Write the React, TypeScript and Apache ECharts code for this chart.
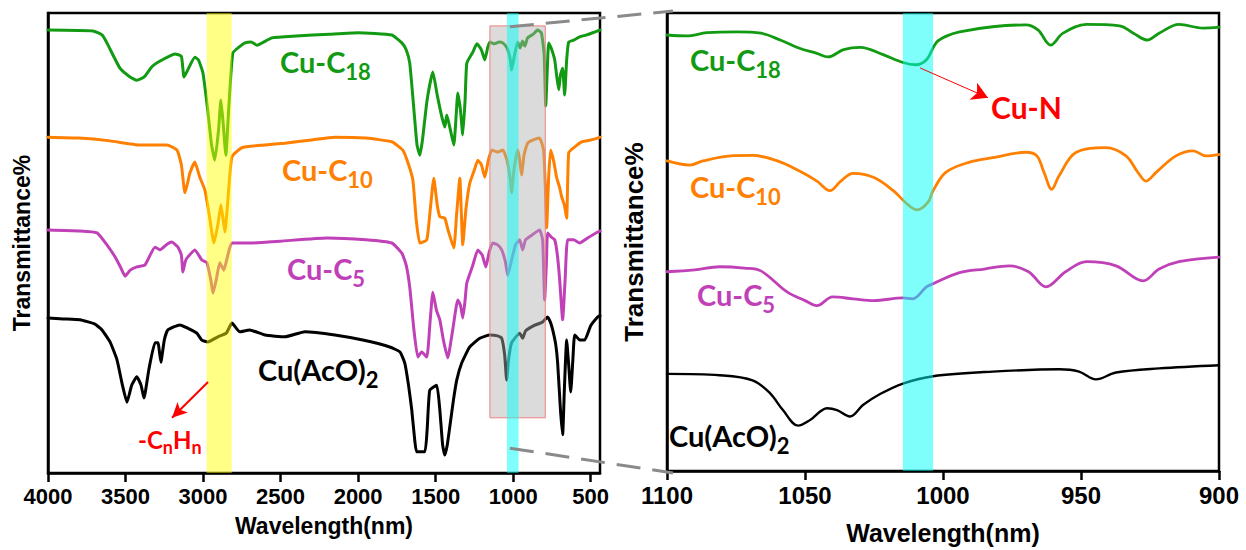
import React, { useEffect, useRef } from "react";
import * as echarts from "echarts";

// FTIR spectra, full range (wavenumber, transmittance in arbitrary offset units)
const cuC18Full: [number, number][] = [[4000,96.3],[3710,96.1],[3650,95.2],[3620,93.5],[3536,88.0],[3471,86.1],[3427,85.4],[3380,86.1],[3330,88.3],[3291,89.3],[3181,91.1],[3140,90.6],[3123,86.1],[3105,87.2],[3053,90.4],[3030,89.8],[3001,87.0],[2970,78.9],[2945,71.3],[2924,68.0],[2900,74.6],[2885,81.1],[2870,75.9],[2853,69.1],[2835,78.9],[2808,91.3],[2760,92.8],[2730,93.5],[2690,93.7],[2653,93.0],[2556,94.6],[2400,95.0],[2183,95.4],[2000,95.7],[1783,95.2],[1718,93.5],[1690,92.0],[1667,89.1],[1640,78.9],[1620,71.3],[1602,69.1],[1585,72.4],[1555,81.1],[1518,87.2],[1490,82.2],[1460,77.4],[1441,75.2],[1428,77.8],[1405,74.6],[1383,71.3],[1370,76.5],[1357,82.6],[1340,78.9],[1325,73.5],[1310,81.1],[1299,89.1],[1260,91.5],[1234,93.3],[1205,92.0],[1183,89.8],[1165,92.4],[1151,93.7],[1120,93.3],[1090,93.7],[1067,93.5],[1040,92.4],[1020,90.2],[1010,87.6],[995,90.2],[971,93.7],[955,92.4],[940,93.9],[925,92.8],[907,94.6],[870,95.4],[843,96.3],[818,95.7],[800,90.9],[790,79.8],[780,87.6],[771,93.5],[755,92.4],[732,89.8],[720,86.5],[706,83.3],[695,86.5],[681,88.0],[668,82.2],[655,89.8],[642,93.7],[610,94.1],[571,94.8],[530,95.2],[487,95.7],[455,96.1],[440,96.3]];

const cuC10Full: [number, number][] = [[4000,73.0],[3800,72.8],[3600,72.2],[3407,71.3],[3233,71.3],[3168,70.2],[3140,67.0],[3117,60.9],[3100,63.0],[3085,65.2],[3053,67.6],[3021,64.3],[2988,61.5],[2960,56.1],[2930,50.0],[2905,53.9],[2885,58.3],[2870,55.0],[2859,52.4],[2840,59.3],[2814,68.7],[2750,70.7],[2600,71.3],[2472,71.7],[2300,72.4],[2150,73.0],[1950,72.8],[1783,72.0],[1712,70.2],[1680,67.6],[1647,63.7],[1625,55.0],[1602,50.0],[1557,50.7],[1535,57.2],[1512,64.1],[1490,58.3],[1473,55.7],[1441,55.4],[1420,52.8],[1383,48.9],[1365,56.1],[1344,64.1],[1335,57.2],[1325,49.6],[1305,57.2],[1280,63.0],[1250,65.9],[1228,68.0],[1205,67.0],[1183,64.3],[1160,68.0],[1138,70.2],[1100,69.8],[1067,70.2],[1040,68.0],[1020,64.1],[1010,60.9],[995,65.9],[971,70.2],[960,68.5],[946,64.8],[930,69.1],[907,71.7],[870,72.4],[830,72.8],[804,70.2],[793,62.6],[784,53.3],[772,63.7],[759,70.2],[740,68.0],[720,64.3],[700,62.0],[687,60.0],[670,58.3],[655,55.4],[642,69.6],[610,70.7],[558,72.0],[500,72.4],[455,72.8],[440,73.0]];

const cuC5Full: [number, number][] = [[4000,52.8],[3800,52.6],[3684,52.2],[3620,49.6],[3568,47.0],[3530,44.6],[3503,42.8],[3470,44.1],[3427,44.8],[3375,45.2],[3310,49.1],[3278,48.5],[3230,49.8],[3201,50.2],[3162,49.1],[3140,47.4],[3130,43.7],[3115,45.9],[3104,46.7],[3053,48.5],[3008,46.3],[2975,45.7],[2950,42.0],[2936,39.1],[2915,42.0],[2892,45.7],[2866,44.1],[2840,47.4],[2814,50.0],[2685,50.0],[2500,50.4],[2200,51.1],[1950,50.7],[1783,50.0],[1718,47.8],[1690,45.2],[1667,40.4],[1640,31.1],[1615,25.2],[1590,26.3],[1557,25.2],[1535,33.3],[1518,39.3],[1495,35.4],[1473,33.3],[1450,28.9],[1422,25.0],[1390,31.1],[1357,37.6],[1340,36.5],[1325,33.7],[1310,37.6],[1299,41.3],[1260,45.2],[1228,48.5],[1200,47.4],[1176,44.8],[1155,48.0],[1132,50.0],[1100,49.6],[1074,48.5],[1050,45.9],[1035,43.0],[1010,46.3],[985,49.6],[958,50.7],[939,48.5],[920,50.7],[880,51.7],[830,52.8],[810,50.7],[797,37.6],[785,46.3],[778,52.2],[755,51.3],[732,50.7],[715,47.4],[700,42.0],[681,33.3],[665,42.0],[649,50.7],[610,50.7],[571,50.0],[520,51.1],[455,52.4],[440,52.6]];

const cuAcOFull: [number, number][] = [[4000,33.7],[3900,33.5],[3794,33.3],[3700,32.4],[3652,31.1],[3600,28.5],[3555,24.6],[3520,19.1],[3491,15.4],[3460,19.1],[3427,20.9],[3400,19.1],[3381,16.3],[3350,22.4],[3310,28.3],[3291,28.3],[3272,24.1],[3250,28.9],[3227,31.1],[3149,32.2],[3100,31.5],[3040,30.4],[3008,28.9],[2969,28.5],[2904,29.6],[2850,30.4],[2814,32.6],[2763,30.7],[2700,31.1],[2601,30.0],[2472,29.6],[2343,30.7],[2150,30.0],[1970,28.9],[1796,27.4],[1730,26.3],[1699,23.9],[1675,19.1],[1654,13.7],[1635,7.2],[1622,4.6],[1570,4.6],[1555,9.3],[1538,18.0],[1493,19.1],[1473,13.7],[1455,6.1],[1441,3.9],[1425,6.1],[1409,10.0],[1385,15.9],[1364,20.2],[1332,23.9],[1280,27.4],[1215,29.3],[1151,30.0],[1100,29.8],[1074,29.3],[1055,25.7],[1042,20.2],[1030,24.6],[1010,28.3],[958,30.4],[939,29.3],[920,30.9],[870,32.0],[811,32.8],[778,33.9],[760,32.8],[745,31.1],[725,27.8],[713,23.9],[695,13.7],[681,8.3],[670,18.0],[655,28.9],[642,23.5],[629,17.6],[615,24.6],[603,30.0],[570,28.9],[539,28.9],[500,32.0],[455,33.9],[440,34.2]];

// Expanded 1100–900 cm-1 window
const cuC18Zoom: [number, number][] = [[1100,95.2],[1093,95.0],[1085.5,95.7],[1074.6,95.9],[1066,95.6],[1059,94.1],[1052,92.3],[1045.7,91.2],[1041.7,90.4],[1036,92.0],[1030,92.5],[1021.7,90.9],[1014.5,89.2],[1010,88.7],[1006,89.8],[1002.5,93.5],[999,94.9],[994,95.9],[982,97.0],[970,97.4],[965.6,96.3],[961,93.0],[956.5,95.6],[948,97.5],[936,97.2],[931,95.6],[926,94.1],[921.7,95.6],[914.5,97.5],[905.8,96.7],[900,96.9]];

const cuC10Zoom: [number, number][] = [[1100,67.7],[1091.7,66.8],[1087,67.7],[1077,68.8],[1068.8,68.9],[1060,67.7],[1052,65.5],[1045.7,63.3],[1041,61.2],[1037,63.3],[1032.6,65.0],[1025,64.1],[1018,61.2],[1013,58.3],[1009.4,57.0],[1005.4,58.7],[1003.6,61.2],[999,65.2],[990.6,67.4],[982,68.4],[970,69.6],[966,68.8],[963.4,65.2],[960.6,61.5],[958,64.4],[952,69.5],[941,70.6],[933.7,68.8],[929.4,65.2],[926.4,63.3],[922.8,65.2],[915.6,68.8],[909.4,69.9],[904.7,68.8],[900,69.1]];

const cuC5Zoom: [number, number][] = [[1100,43.5],[1090,43.9],[1081,44.6],[1072,44.3],[1066,43.7],[1056.5,39.1],[1050,37.2],[1045.7,36.1],[1040,38.0],[1032.6,37.6],[1025,37.2],[1014.5,37.8],[1011,37.6],[1006,40.2],[1003.6,40.9],[994,43.3],[985,44.1],[976,44.8],[969,43.5],[962.7,40.2],[955.6,43.5],[948,45.7],[937.3,44.8],[927.5,41.5],[921.7,44.1],[914.5,45.7],[900,46.7]];

const cuAcOZoom: [number, number][] = [[1100,21.2],[1081,20.9],[1069,19.8],[1062.7,17.0],[1058,13.3],[1052.5,9.9],[1048,11.2],[1042,13.7],[1038.4,13.3],[1033.7,11.9],[1029,14.4],[1022.8,16.8],[1014.5,19.1],[1003.6,20.7],[982,21.7],[958,22.2],[950.7,21.7],[944.6,20.0],[937.3,21.5],[921.7,22.4],[900,23.1]];

const fullTicks = [4000, 3500, 3000, 2500, 2000, 1500, 1000, 500];

// Highlighted bands and the boxed region (wavenumber limits)
const chBand = [2977, 2815];
const cuNBandFull = [1040, 965];
const cuNBandZoom = [1014.5, 1003.6];
const zoomBox = { from: 1150, to: 793, top: 97.2, bottom: 12.0 };

// Annotation arrows: [tail, head] in data units
const chArrow: [number, number][] = [[2968, 19.8], [3200, 12.0]];
const cuNArrow: [number, number][] = [[1008.3, 88.0], [983.7, 81.5]];

const GREEN = "#129a12";
const ORANGE = "#ff8000";
const MAGENTA = "#c040b8";
const BLACK = "#000000";
const RED = "#ff0000";

const LABEL_FONT = "Lato, 'Open Sans', sans-serif";
const AXIS_FONT = "'Liberation Sans', Arial, sans-serif";

type Part = { t: string; sub?: boolean };

function richLabel(left: number, capsCenter: number, parts: Part[], color: string, size: number) {
  const subSize = Math.round(size * 0.76);
  const text = parts.map((p) => `{${p.sub ? "s" : "m"}|${p.t}}`).join("");
  return {
    type: "text",
    x: left,
    y: capsCenter - 0.54 * size,
    z: 50,
    silent: true,
    style: {
      text,
      fill: color,
      align: "left",
      verticalAlign: "top",
      rich: {
        m: { fontSize: size, fontWeight: "bold", fontFamily: LABEL_FONT, fill: color, lineHeight: size * 1.2, verticalAlign: "top" },
        s: { fontSize: subSize, fontWeight: "bold", fontFamily: LABEL_FONT, fill: color, lineHeight: size * 0.64, verticalAlign: "bottom" },
      },
    },
  };
}

const plainNumber = (v: number) => String(v);

function xAxisFor(gridIndex: number, min: number, max: number, fontSize: number, nameSize: number, extra: any) {
  return {
    type: "value",
    gridIndex,
    min,
    max,
    inverse: true,
    axisLine: { show: true, onZero: false, lineStyle: { color: "#000", width: 2.5 } },
    axisTick: { show: true, inside: false, length: 9, lineStyle: { color: "#000", width: 2.5 }, ...(extra.tick || {}) },
    axisLabel: { fontSize, fontWeight: "bold", color: "#000", fontFamily: AXIS_FONT, margin: 12, formatter: plainNumber, ...(extra.label || {}) },
    splitLine: { show: false },
    name: "Wavelength(nm)",
    nameLocation: "middle",
    nameGap: extra.nameGap,
    nameTextStyle: { fontSize: nameSize, fontWeight: "bold", color: "#000", fontFamily: AXIS_FONT },
    ...(extra.axis || {}),
  };
}

function yAxisFor(gridIndex: number, nameSize: number, nameGap: number) {
  return {
    type: "value",
    gridIndex,
    min: 0,
    max: 100,
    axisLine: { show: true, onZero: false, lineStyle: { color: "#000", width: 2.5 } },
    axisTick: { show: false },
    axisLabel: { show: false },
    splitLine: { show: false },
    name: "Transmittance%",
    nameLocation: "middle",
    nameGap,
    nameTextStyle: { fontSize: nameSize, fontWeight: "bold", color: "#000", fontFamily: AXIS_FONT },
  };
}

function spectrum(name: string, data: [number, number][], color: string, width: number, gridIndex: number, smooth: number) {
  return {
    name,
    type: "line",
    xAxisIndex: gridIndex,
    yAxisIndex: gridIndex,
    data,
    showSymbol: false,
    symbol: "none",
    smooth,
    z: 2,
    silent: true,
    lineStyle: { color, width, join: "round", cap: "round" },
  };
}

function overlay(gridIndex: number, markArea: any, markLine?: any) {
  return {
    type: "line",
    xAxisIndex: gridIndex,
    yAxisIndex: gridIndex,
    data: [],
    silent: true,
    markArea,
    ...(markLine ? { markLine } : {}),
  };
}

function arrowLine(pts: [number, number][], width: number, size: [number, number]) {
  return {
    silent: true,
    symbol: ["none", "arrow"],
    symbolSize: size,
    label: { show: false },
    lineStyle: { color: RED, width, type: "solid" },
    z: 20,
    data: [[{ coord: pts[0] }, { coord: pts[1] }]],
  };
}

export default function App() {
  const ref = useRef<HTMLDivElement>(null);

  useEffect(() => {
    document.body.style.margin = "0";
    if (!ref.current) return;
    const chart = echarts.init(ref.current, undefined, { renderer: "svg" });

    const option: any = {
      animation: false,
      backgroundColor: "#ffffff",
      grid: [
        { left: 48, top: 13, width: 552, height: 460, show: true, borderColor: "#000", borderWidth: 2.5, backgroundColor: "transparent" },
        { left: 667, top: 13, width: 552, height: 460, show: true, borderColor: "#000", borderWidth: 2.5, backgroundColor: "transparent" },
      ],
      xAxis: [
        xAxisFor(0, 440, 4000, 22, 23, { tick: { customValues: fullTicks }, label: { customValues: fullTicks }, nameGap: 41 }),
        xAxisFor(1, 900, 1100, 24, 25, { axis: { interval: 50 }, nameGap: 49 }),
      ],
      yAxis: [yAxisFor(0, 23, 15), yAxisFor(1, 26, 20)],
      series: [
        spectrum("Cu-C18", cuC18Full, GREEN, 3, 0, 0.15),
        spectrum("Cu-C10", cuC10Full, ORANGE, 3, 0, 0.15),
        spectrum("Cu-C5", cuC5Full, MAGENTA, 3, 0, 0.15),
        spectrum("Cu(AcO)2", cuAcOFull, BLACK, 3, 0, 0.15),
        spectrum("Cu-C18 (zoom)", cuC18Zoom, GREEN, 2.8, 1, 0.35),
        spectrum("Cu-C10 (zoom)", cuC10Zoom, ORANGE, 2.8, 1, 0.35),
        spectrum("Cu-C5 (zoom)", cuC5Zoom, MAGENTA, 2.8, 1, 0.35),
        spectrum("Cu(AcO)2 (zoom)", cuAcOZoom, BLACK, 2.4, 1, 0.35),
        // boxed region in the full spectrum
        overlay(0, {
          silent: true,
          z: 5,
          itemStyle: { color: "rgba(175,175,175,0.45)", borderColor: "#f08080", borderWidth: 1 },
          data: [[{ xAxis: zoomBox.from, yAxis: zoomBox.top }, { xAxis: zoomBox.to, yAxis: zoomBox.bottom }]],
        }),
        // C–H stretching band and Cu–N band, full spectrum
        overlay(
          0,
          {
            silent: true,
            z: 6,
            data: [
              [{ xAxis: chBand[0], itemStyle: { color: "rgba(255,255,0,0.48)" } }, { xAxis: chBand[1] }],
              [{ xAxis: cuNBandFull[0], itemStyle: { color: "rgba(0,255,250,0.5)" } }, { xAxis: cuNBandFull[1] }],
            ],
          },
          arrowLine(chArrow, 2, [11, 15])
        ),
        // Cu–N band in the expanded window
        overlay(
          1,
          {
            silent: true,
            z: 6,
            itemStyle: { color: "rgba(0,255,250,0.5)" },
            data: [[{ xAxis: cuNBandZoom[0] }, { xAxis: cuNBandZoom[1] }]],
          },
          arrowLine(cuNArrow, 1, [14, 16])
        ),
      ],
    };

    chart.setOption(option);

    // dashed connectors from the boxed band to the expanded panel corners
    const a0 = chart.convertToPixel({ gridIndex: 0 }, [1021, 97]) as number[];
    const a1 = chart.convertToPixel({ gridIndex: 0 }, [1021, 5.4]) as number[];
    const b0 = chart.convertToPixel({ gridIndex: 1 }, [1100, 100]) as number[];
    const b1 = chart.convertToPixel({ gridIndex: 1 }, [1100, 0]) as number[];
    const dash = { stroke: "#8a8a8a", lineWidth: 3, lineDash: [24, 12] };

    const graphics: any[] = [
      { type: "line", z: 40, silent: true, shape: { x1: a0[0], y1: a0[1], x2: b0[0] + 6, y2: b0[1] - 2 }, style: dash },
      { type: "line", z: 40, silent: true, shape: { x1: a1[0], y1: a1[1], x2: b1[0] + 6, y2: b1[1] + 2 }, style: dash },
      // full-spectrum labels
      richLabel(280, 63, [{ t: "Cu-C" }, { t: "18", sub: true }], GREEN, 29),
      richLabel(282, 171, [{ t: "Cu-C" }, { t: "10", sub: true }], ORANGE, 29),
      richLabel(287, 270, [{ t: "Cu-C" }, { t: "5", sub: true }], MAGENTA, 29),
      richLabel(258, 371, [{ t: "Cu(AcO)" }, { t: "2", sub: true }], BLACK, 29),
      richLabel(138, 440, [{ t: "-C" }, { t: "n", sub: true }, { t: "H" }, { t: "n", sub: true }], RED, 24),
      // expanded-window labels
      richLabel(690, 61, [{ t: "Cu-C" }, { t: "18", sub: true }], GREEN, 29),
      richLabel(690, 188, [{ t: "Cu-C" }, { t: "10", sub: true }], ORANGE, 29),
      richLabel(697, 296, [{ t: "Cu-C" }, { t: "5", sub: true }], MAGENTA, 29),
      richLabel(669, 437, [{ t: "Cu(AcO)" }, { t: "2", sub: true }], BLACK, 29),
      richLabel(991, 108, [{ t: "Cu-N" }], RED, 30),
    ];
    chart.setOption({ graphic: graphics });

    return () => chart.dispose();
  }, []);

  return <div ref={ref} style={{ width: 1246, height: 550 }} />;
}
